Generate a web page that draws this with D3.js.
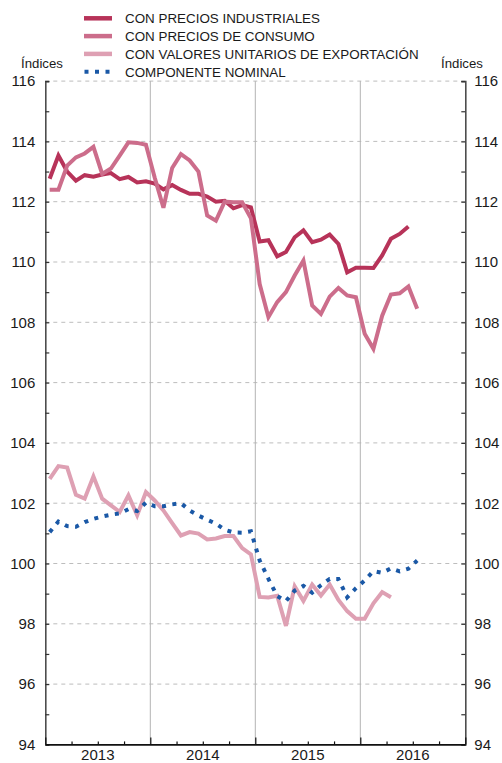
<!DOCTYPE html>
<html>
<head>
<meta charset="utf-8">
<script src="https://cdn.jsdelivr.net/npm/d3@7/dist/d3.min.js"></script>
<style>
  html, body { margin: 0; padding: 0; background: #fff; }
  svg { display: block; font-family: "Liberation Sans", Arial, Helvetica, sans-serif; }
</style>
</head>
<body>
<svg id="chart" width="502" height="763"></svg>
<script>
// ---- Data (monthly, starting January 2013) ----
const years = ["2013", "2014", "2015", "2016"];
const seriesNames = [
  "CON PRECIOS INDUSTRIALES",
  "CON PRECIOS DE CONSUMO",
  "CON VALORES UNITARIOS DE EXPORTACIÓN",
  "COMPONENTE NOMINAL"
];
const industriales = [
  112.76, 113.53, 113.0, 112.7, 112.88, 112.83, 112.9, 112.95, 112.75, 112.82, 112.64, 112.68,
  112.6, 112.41, 112.55, 112.39, 112.26, 112.26, 112.17, 112.0, 112.03, 111.78, 111.89, 111.81,
  110.68, 110.72, 110.19, 110.33, 110.82, 111.05, 110.66, 110.74, 110.91, 110.6, 109.66, 109.81,
  109.81, 109.8, 110.22, 110.77, 110.93, 111.18
];
const consumo = [
  112.4, 112.4, 113.2, 113.47, 113.6, 113.82, 112.92, 113.1, 113.53, 113.97, 113.95, 113.89,
  112.8, 111.8, 113.12, 113.58, 113.37, 113.0, 111.54, 111.37, 112.0, 111.98, 111.98, 111.45,
  109.27, 108.17, 108.67, 109.0, 109.55, 110.05, 108.56, 108.28, 108.85, 109.14, 108.89, 108.83,
  107.62, 107.12, 108.22, 108.92, 108.96, 109.19, 108.45
];
const exportacion = [
  102.81, 103.23, 103.18, 102.28, 102.15, 102.89, 102.15, 101.93, 101.71, 102.26, 101.6, 102.37,
  102.09, 101.76, 101.34, 100.93, 101.04, 100.99, 100.8, 100.83, 100.91, 100.91, 100.51, 100.3,
  98.89, 98.87, 98.93, 97.93, 99.24, 98.76, 99.3, 98.94, 99.3, 98.79, 98.42, 98.17,
  98.17, 98.68, 99.05, 98.88
];
const nominal = [
  101.04, 101.39, 101.24, 101.22, 101.37, 101.48, 101.56, 101.62, 101.66, 101.8, 101.74, 102.02,
  101.9, 101.9, 101.96, 102.0, 101.76, 101.59, 101.45, 101.32, 101.12, 101.03, 101.02, 101.07,
  100.1, 99.49, 98.92, 98.75, 99.1, 99.26, 99.03, 99.28, 99.49, 99.49, 98.88, 99.18,
  99.44, 99.75, 99.69, 99.84, 99.74, 99.83, 100.1
];
const yTicks = d3.range(94, 117, 1);
const yLabels = d3.range(94, 117, 2);
const gridValues = d3.range(96, 117, 2);

// ---- Layout ----
const svg = d3.select("#chart");
const L = 45.3, R = 465.3, T = 81.1, B = 744.4;
const x = d3.scaleLinear().domain([0, 48]).range([L, R]);
const y = d3.scaleLinear().domain([94, 116]).range([B, T]);
const font = "\"Liberation Sans\", Arial, Helvetica, sans-serif";

// gridlines (dashed)
svg.append("g").selectAll("line").data(gridValues).join("line")
  .attr("x1", L).attr("x2", R)
  .attr("y1", d => y(d)).attr("y2", d => y(d))
  .attr("stroke", "#bdbdbd").attr("stroke-width", 1)
  .attr("stroke-dasharray", "4,4");

// year separators
svg.append("g").selectAll("line").data([12, 24, 36]).join("line")
  .attr("x1", d => x(d)).attr("x2", d => x(d))
  .attr("y1", T).attr("y2", B)
  .attr("stroke", "#b3b3b3").attr("stroke-width", 1);

// ---- Series ----
const colors = ["#b73359", "#cc6d8b", "#dea0b3", "#1a58a6"];
const allSeries = [industriales, consumo, exportacion, nominal];
const line = d3.line().x((d, i) => x(i + 0.5)).y(d => y(d));

allSeries.forEach((s, k) => {
  const p = svg.append("path").datum(s)
    .attr("d", line)
    .attr("fill", "none")
    .attr("stroke", colors[k])
    .attr("stroke-linejoin", "miter")
    .attr("stroke-miterlimit", 3);
  if (k === 3) {
    p.attr("stroke-width", 4).attr("stroke-dasharray", "4,6.5");
  } else {
    p.attr("stroke-width", 4);
  }
});

// ---- Axes ----
const axL = svg.append("g").attr("transform", `translate(${L},0)`)
  .call(d3.axisLeft(y).tickValues(yTicks).tickSize(-4).tickPadding(10)
    .tickFormat(d => d % 2 === 0 ? d : ""));
const axR = svg.append("g").attr("transform", `translate(${R},0)`)
  .call(d3.axisRight(y).tickValues(yTicks).tickSize(-4).tickPadding(9)
    .tickFormat(d => d % 2 === 0 ? d : ""));
[axL, axR].forEach(g => {
  g.select(".domain").attr("stroke", "#4d4d4d").attr("stroke-width", 1.6);
  g.selectAll(".tick line").attr("stroke", "#333").attr("stroke-width", 1.2);
  g.selectAll("text").attr("font-size", 15).attr("font-family", font).attr("fill", "#1a1a1a");
});

// bottom axis: quarter ticks, year boundaries, year labels centred
const axB = svg.append("g").attr("transform", `translate(0,${B})`)
  .call(d3.axisBottom(x).tickValues(d3.range(0, 49, 3)).tickSizeInner(-3).tickSizeOuter(0).tickFormat(""));
axB.select(".domain").attr("stroke", "#111").attr("stroke-width", 1.6);
axB.selectAll(".tick line").attr("stroke", "#111").attr("stroke-width", 1.2)
  .attr("y2", d => d % 12 === 0 ? -7 : -3);
svg.append("g").selectAll("text").data(years).join("text")
  .attr("x", (d, i) => x(i * 12 + 6))
  .attr("y", 759.5)
  .attr("text-anchor", "middle")
  .attr("font-size", 15).attr("font-family", font).attr("fill", "#1a1a1a")
  .text(d => d);

// axis titles
svg.append("text").attr("x", 42).attr("y", 68).attr("text-anchor", "middle")
  .attr("font-size", 13.2).attr("font-family", font).attr("fill", "#1a1a1a").text("Índices");
svg.append("text").attr("x", 462).attr("y", 68).attr("text-anchor", "middle")
  .attr("font-size", 13.2).attr("font-family", font).attr("fill", "#1a1a1a").text("Índices");

// ---- Legend ----
const lg = svg.append("g");
seriesNames.forEach((name, k) => {
  const cy = 18.3 + k * 17.8;
  const sw = lg.append("line")
    .attr("x1", 84).attr("x2", 112)
    .attr("y1", cy).attr("y2", cy)
    .attr("stroke", colors[k]).attr("stroke-width", 4.5);
  if (k === 3) sw.attr("stroke-width", 4).attr("stroke-dasharray", "4,6.5").attr("x1", 84.5);
  lg.append("text").attr("x", 125).attr("y", cy + 4.9)
    .attr("font-size", 13.4).attr("font-family", font).attr("fill", "#1a1a1a")
    .text(name);
});
</script>
</body>
</html>
